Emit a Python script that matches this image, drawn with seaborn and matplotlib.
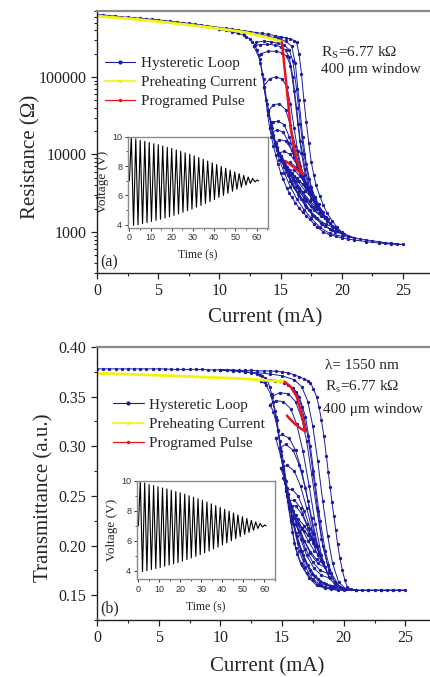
import matplotlib
matplotlib.use('Agg')
import matplotlib.pyplot as plt
import seaborn as sns
from matplotlib.lines import Line2D
from matplotlib.ticker import MultipleLocator, FixedLocator, LogLocator, NullFormatter

# ---------------- (a) resistance vs current ----------------
# main loop: heating 0 -> 25 mA, then cooling 25 -> 10 mA
cyc0_i = [0, 0.5, 1, 1.5, 2, 2.5, 3, 3.5, 4, 4.5, 5, 5.5, 6, 6.5, 7, 7.5, 8, 8.5, 9, 9.5, 10, 10.5, 11, 11.5, 12,
          12.5, 13, 13.5, 14, 14.5, 15, 15.4, 15.8, 16.1, 16.3, 16.5, 16.7, 16.9, 17.1, 17.3, 17.5, 17.7, 17.9, 18.2,
          18.5, 18.8, 19.2, 19.6, 20, 20.5, 21, 21.5, 22, 22.5, 23, 23.5, 24, 24.5, 25,
          24, 23, 22, 21, 20.5, 20, 19.5, 19, 18.5, 18, 17.7, 17.4, 17.1, 16.8, 16.5, 16.2, 15.9, 15.7, 15.5, 15.2,
          15.0, 14.8, 14.6, 14.4, 14.25, 14.1, 13.95, 13.8, 13.65, 13.5, 13.35, 13.2, 13.05, 12.9, 12.7, 12.5, 12.2,
          12, 11.5, 11, 10.5, 10]
cyc0_r = [640000, 630000, 620000, 610000, 600000, 590000, 582000, 573000, 565000, 555000, 545000, 535000, 525000,
          513000, 503000, 492000, 480000, 470000, 458000, 447000, 435000, 425000, 415000, 405000, 395000, 385000,
          375000, 365000, 355000, 343000, 330000, 320000, 310000, 295000, 280000, 200000, 110000, 50000, 26000,
          14000, 8000, 5500, 4000, 2900, 2200, 1750, 1400, 1150, 990, 900, 840, 810, 790, 770, 750, 730, 715, 700, 690,
          700, 720, 750, 790, 810, 840, 880, 920, 1000, 1150, 1280, 1450, 1620, 1800, 2050, 2400, 2800, 3200, 3700, 4800,
          5800, 7500, 9800, 13000, 17000, 22000, 32000, 50000, 75000, 110000, 150000, 190000, 225000, 260000, 285000,
          310000, 330000, 345000, 365000, 385000, 400000, 410000]
# minor loops (heating then cooling)
cyc1_i = [10, 11, 12, 13, 14, 14.8, 15.4, 15.9, 16.2, 16.5, 16.8, 17.1, 17.5, 18, 18.6, 19.3, 20.1, 21,
          20, 19, 18.2, 17.5, 16.9, 16.3, 15.8, 15.3, 14.9, 14.5, 14.2, 13.9, 13.6, 13.3, 12.8]
cyc1_r = [410000, 395000, 375000, 355000, 335000, 315000, 290000, 250000, 150000, 50000, 17000, 7500, 3800, 2200, 1500,
          1150, 950, 840,
          880, 960, 1150, 1500, 1950, 2700, 3800, 5800, 8500, 14000, 24000, 45000, 95000, 170000, 250000]
cyc2_i = [12.8, 13.3, 13.9, 14.5, 15.0, 15.4, 15.7, 16.0, 16.3, 16.6, 17.0, 17.4, 17.9, 18.5, 19.2, 20,
          19.2, 18.4, 17.7, 17.1, 16.5, 15.9, 15.4, 15.0, 14.6, 14.3, 14.0, 13.6]
cyc2_r = [250000, 262000, 265000, 258000, 245000, 225000, 180000, 100000, 40000, 15000, 6500, 3600, 2300, 1600, 1200, 980,
          1050, 1250, 1600, 2100, 2900, 4200, 6300, 9000, 14000, 22000, 38000, 75000]
cyc3_i = [13.6, 14.1, 14.6, 15.1, 15.5, 15.8, 16.1, 16.4, 16.8, 17.3, 17.9, 18.6, 19.4,
          18.7, 18.0, 17.4, 16.8, 16.2, 15.6, 15.1, 14.7, 14.4, 14.1]
cyc3_r = [75000, 95000, 100000, 95000, 75000, 45000, 22000, 11000, 5600, 3200, 2100, 1500, 1150,
          1250, 1500, 1900, 2600, 3700, 5600, 8500, 12500, 17000, 22000]
cyc4_i = [14.1, 14.4, 14.8, 15.3, 15.7, 16.1, 16.5, 17.0, 17.5, 18.2, 18.9,
          18.3, 17.7, 17.1, 16.5, 16.0, 15.5, 15.0, 14.5]
cyc4_r = [22000, 26000, 27000, 24000, 17000, 10500, 6500, 4000, 2700, 1900, 1450,
          1600, 1900, 2500, 3400, 4700, 6600, 9500, 14000]
cyc5_i = [14.5, 14.9, 15.4, 15.9, 16.3, 16.8, 17.3, 17.9, 18.5,
          18.0, 17.4, 16.8, 16.2, 15.7, 15.3, 14.9]
cyc5_r = [14000, 15500, 15000, 11500, 8000, 5200, 3500, 2400, 1800,
          2000, 2500, 3300, 4600, 6300, 8300, 10500]
cyc6_i = [14.9, 15.3, 15.8, 16.3, 16.8, 17.4, 18.1, 17.6, 17.0, 16.4, 15.9, 15.3]
cyc6_r = [10500, 11000, 10000, 7500, 5200, 3400, 2300, 2700, 3400, 4500, 5800, 7800]
cyc7_i = [15.3, 15.8, 16.3, 16.8, 17.3, 17.8, 17.3, 16.8, 16.3, 15.7]
cyc7_r = [7800, 7900, 6800, 5000, 3600, 2700, 3300, 4100, 5000, 6300]
cyc8_i = [15.7, 16.1, 16.6, 17.1, 17.5, 17.0, 16.5, 16.1]
cyc8_r = [6300, 6300, 5200, 4000, 3300, 3900, 4600, 5200]
cyc9_i = [13.0, 13.6, 14.2, 14.8, 15.3, 15.7, 16.0, 16.3, 16.6, 16.9, 17.3, 17.8, 18.4, 19.0, 19.7,
          19.0, 18.3, 17.6, 17.0, 16.4, 15.8, 15.3, 14.9, 14.6, 14.3]
cyc9_r = [280000, 290000, 285000, 272000, 255000, 225000, 160000, 70000, 25000, 10000, 4800, 2800, 1800, 1300, 1020,
          1100, 1300, 1650, 2200, 3100, 4600, 6800, 9800, 13500, 19000]
cyc10_i = [14.3, 14.7, 15.2, 15.7, 16.1, 16.6, 17.1, 17.7, 18.2, 18.7,
           18.1, 17.5, 16.9, 16.3, 15.8, 15.3, 14.9, 14.7]
cyc10_r = [19000, 21000, 19500, 14000, 9200, 5800, 3700, 2500, 1900, 1550,
           1750, 2150, 2800, 3900, 5400, 7600, 10000, 11500]
cyc11_i = [13.4, 14.0, 14.6, 15.1, 15.5, 15.8, 16.1, 16.4, 16.7, 17.0, 17.5, 18.1, 18.8, 19.5, 20.2,
           19.4, 18.6, 17.9, 17.3, 16.7, 16.1, 15.6, 15.1, 14.7, 14.4, 14.2, 14.0]
cyc11_r = [200000, 215000, 215000, 205000, 185000, 140000, 65000, 25000, 10500, 5500, 3100, 2000, 1400, 1100, 930,
           1000, 1200, 1500, 1950, 2650, 3800, 5500, 8200, 12000, 18000, 26000, 36000]
cyc12_i = [14.0, 14.4, 14.9, 15.4, 15.8, 16.2, 16.6, 17.1, 17.7, 18.3,
           17.7, 17.1, 16.5, 16.0, 15.5, 15.0]
cyc12_r = [36000, 44000, 45000, 38000, 24000, 13000, 7200, 4300, 2700, 1850,
           2100, 2700, 3700, 4900, 6800, 9500]

pre_i = [0, 3, 6, 9, 12, 14, 15.1]
pre_r = [610000, 560000, 500000, 440000, 380000, 320000, 285000]
pulse_i = [15.1, 15.25, 15.4, 15.6, 15.8, 16.1, 16.4, 16.85, 16.4, 16.0, 15.7, 15.4]
pulse_r = [285000, 170000, 100000, 50000, 23000, 12000, 7800, 5500, 6200, 7000, 7600, 8200]

# ---------------- (b) transmittance vs current ----------------
tcyc0_i = [0, 0.5, 1, 1.5, 2, 2.5, 3, 3.5, 4, 4.5, 5, 5.5, 6, 6.5, 7, 7.5, 8, 8.5, 9, 9.5, 10, 10.5, 11, 11.5, 12,
           12.5, 13, 13.5, 14, 14.5, 15, 15.5, 16, 16.4, 16.8, 17.1, 17.3, 17.55, 17.8, 18.0, 18.2, 18.4, 18.6, 18.75,
           18.9, 19.05, 19.2, 19.35, 19.5, 19.7, 19.9, 20.1, 20.3, 20.6, 21, 21.5, 22, 22.5, 23, 23.5, 24, 24.5, 25,
           24, 23, 22, 21, 20, 19, 18.5, 18, 17.5, 17, 16.75, 16.5, 16.25, 16, 15.85, 15.7, 15.55, 15.4, 15.25, 15.1,
           14.95, 14.8, 14.7, 14.6, 14.45, 14.3, 14.15, 14, 13.8, 13.6, 13.4, 13.2, 13, 12.5, 12, 11.5, 11, 10.5, 10]
tcyc0_t = [0.378, 0.378, 0.378, 0.378, 0.378, 0.378, 0.378, 0.378, 0.378, 0.378, 0.378, 0.378, 0.3775, 0.3775, 0.3775,
           0.3775, 0.3775, 0.3775, 0.377, 0.377, 0.377, 0.377, 0.377, 0.3765, 0.3765, 0.3765, 0.376, 0.376, 0.376,
           0.3755, 0.375, 0.374, 0.372, 0.370, 0.368, 0.366, 0.364, 0.358, 0.350, 0.340, 0.326, 0.310, 0.290, 0.274,
           0.259, 0.244, 0.230, 0.216, 0.202, 0.187, 0.175, 0.165, 0.158, 0.156, 0.155, 0.155, 0.155, 0.155, 0.155,
           0.155, 0.155, 0.155, 0.155,
           0.155, 0.155, 0.155, 0.155, 0.155, 0.156, 0.158, 0.160, 0.165, 0.172, 0.177, 0.182, 0.191, 0.203, 0.214,
           0.226, 0.238, 0.250, 0.263, 0.276, 0.291, 0.305, 0.316, 0.326, 0.336, 0.345, 0.353, 0.360, 0.367, 0.369,
           0.371, 0.372, 0.373, 0.374, 0.375, 0.3755, 0.376, 0.3765, 0.377]
tcyc1_i = [10, 12, 14, 15, 16, 16.6, 17.1, 17.5, 17.9, 18.3, 18.7, 19.1, 19.6, 20.2, 21,
           19.5, 18.5, 17.8, 17.2, 16.6, 16.1, 15.7, 15.3, 14.9, 14.5, 14.1, 13.7, 13.3]
tcyc1_t = [0.377, 0.375, 0.373, 0.371, 0.367, 0.360, 0.345, 0.320, 0.285, 0.245, 0.210, 0.182, 0.163, 0.156, 0.155,
           0.155, 0.157, 0.160, 0.167, 0.180, 0.198, 0.225, 0.258, 0.295, 0.330, 0.352, 0.362, 0.366]
tcyc2_i = [13.3, 14, 14.8, 15.5, 16.1, 16.6, 17.1, 17.5, 17.9, 18.3, 18.8, 19.3, 20,
           19, 18.2, 17.5, 16.9, 16.4, 15.9, 15.5, 15.1, 14.7, 14.3, 14.0]
tcyc2_t = [0.366, 0.367, 0.366, 0.362, 0.355, 0.340, 0.310, 0.275, 0.235, 0.200, 0.175, 0.161, 0.156,
           0.157, 0.160, 0.166, 0.178, 0.195, 0.222, 0.252, 0.285, 0.315, 0.335, 0.342]
tcyc3_i = [14.0, 14.5, 15.1, 15.7, 16.2, 16.7, 17.2, 17.7, 18.2, 18.8, 19.4,
           18.6, 17.9, 17.3, 16.7, 16.2, 15.7, 15.3, 14.9, 14.5]
tcyc3_t = [0.342, 0.346, 0.345, 0.338, 0.322, 0.295, 0.260, 0.222, 0.190, 0.168, 0.159,
           0.161, 0.166, 0.175, 0.190, 0.210, 0.238, 0.265, 0.290, 0.308]
tcyc4_i = [14.5, 15.0, 15.6, 16.1, 16.6, 17.1, 17.6, 18.2, 18.9,
           18.2, 17.6, 17.0, 16.5, 16.0, 15.5, 15.2, 14.9]
tcyc4_t = [0.308, 0.312, 0.308, 0.296, 0.275, 0.245, 0.212, 0.185, 0.167,
           0.170, 0.177, 0.190, 0.207, 0.228, 0.252, 0.267, 0.278]
tcyc5_i = [14.9, 15.4, 16.0, 16.5, 17.0, 17.5, 18.0, 18.5,
           17.9, 17.3, 16.8, 16.3, 15.8, 15.3]
tcyc5_t = [0.278, 0.281, 0.275, 0.260, 0.238, 0.213, 0.192, 0.178,
           0.182, 0.192, 0.205, 0.222, 0.240, 0.255]
tcyc6_i = [15.3, 15.8, 16.3, 16.8, 17.3, 17.7, 18.1, 17.6, 17.1, 16.6, 16.1, 15.6]
tcyc6_t = [0.255, 0.257, 0.250, 0.235, 0.217, 0.200, 0.190, 0.195, 0.205, 0.218, 0.231, 0.240]
tcyc7_i = [15.6, 16.1, 16.6, 17.1, 17.5, 17.8, 17.3, 16.8, 16.3, 15.9]
tcyc7_t = [0.240, 0.240, 0.232, 0.218, 0.206, 0.200, 0.207, 0.215, 0.223, 0.228]
tcyc8_i = [15.9, 16.3, 16.8, 17.2, 17.5, 17.1, 16.6, 16.2]
tcyc8_t = [0.228, 0.227, 0.220, 0.212, 0.207, 0.211, 0.217, 0.222]
tcyc9_i = [13.6, 14.4, 15.2, 15.9, 16.4, 16.9, 17.3, 17.7, 18.1, 18.5, 19.0, 19.7,
           18.9, 18.1, 17.4, 16.8, 16.3, 15.8, 15.4, 15.1, 14.8]
tcyc9_t = [0.365, 0.366, 0.364, 0.359, 0.350, 0.330, 0.300, 0.262, 0.225, 0.195, 0.172, 0.158,
           0.159, 0.163, 0.171, 0.185, 0.203, 0.230, 0.258, 0.280, 0.298]
tcyc10_i = [14.8, 15.3, 15.9, 16.4, 16.9, 17.4, 17.9, 18.3, 18.7,
            18.1, 17.5, 16.9, 16.4, 15.9, 15.5, 15.1]
tcyc10_t = [0.298, 0.302, 0.296, 0.281, 0.258, 0.228, 0.200, 0.183, 0.172,
            0.175, 0.183, 0.197, 0.214, 0.235, 0.252, 0.268]
tcyc11_i = [14.2, 14.8, 15.5, 16.1, 16.6, 17.0, 17.4, 17.8, 18.2, 18.7, 19.3, 19.9,
            19.1, 18.4, 17.7, 17.1, 16.6, 16.1, 15.8, 15.5]
tcyc11_t = [0.350, 0.354, 0.353, 0.345, 0.328, 0.305, 0.272, 0.238, 0.207, 0.180, 0.163, 0.157,
            0.158, 0.162, 0.169, 0.180, 0.195, 0.213, 0.228, 0.245]
tcyc12_i = [15.5, 16.0, 16.5, 17.0, 17.5, 17.9, 18.3, 17.8, 17.3, 16.8, 16.4, 16.0]
tcyc12_t = [0.245, 0.246, 0.238, 0.222, 0.203, 0.190, 0.182, 0.186, 0.194, 0.205, 0.215, 0.222]

tpre_i = [0, 4, 8, 12, 15.2]
tpre_t = [0.3735, 0.372, 0.370, 0.368, 0.365]
tpulse_i = [15.2, 15.7, 16.2, 16.6, 16.9, 16.5, 16.0, 15.6, 15.4]
tpulse_t = [0.365, 0.360, 0.350, 0.332, 0.315, 0.318, 0.323, 0.328, 0.331]

# ---------------- inset: damped voltage oscillation ----------------
volt_t = [0, 0.9, 1.95, 3.0, 4.05, 5.1, 6.2, 7.25, 8.3, 9.35, 10.4, 11.5, 12.55, 13.6, 14.65, 15.7, 16.8, 17.85, 18.9,
          19.95, 21.0, 22.1, 23.15, 24.2, 25.25, 26.3, 27.4, 28.45, 29.5, 30.55, 31.6, 32.7, 33.75, 34.8, 35.85, 36.9,
          38.0, 39.05, 40.1, 41.15, 42.2, 43.3, 44.35, 45.4, 46.45, 47.5, 48.6, 49.65, 50.7, 51.75, 52.8, 53.9, 54.95,
          56.0, 57.05, 58.1, 59.2, 60.25, 61.0]
volt_v = [7.0, 10.0, 3.95, 9.85, 4.0, 9.75, 4.08, 9.68, 4.15, 9.6, 4.22, 9.52, 4.3, 9.45, 4.38, 9.37, 4.46, 9.28, 4.55,
          9.2, 4.64, 9.1, 4.74, 9.0, 4.85, 8.9, 4.96, 8.8, 5.07, 8.7, 5.2, 8.58, 5.32, 8.46, 5.45, 8.34, 5.58, 8.22,
          5.72, 8.1, 5.86, 7.97, 6.0, 7.85, 6.14, 7.72, 6.28, 7.6, 6.42, 7.48, 6.56, 7.36, 6.7, 7.25, 6.82, 7.15, 6.92,
          7.05, 6.98]

top_cycles = [(cyc0_i, cyc0_r), (cyc1_i, cyc1_r), (cyc2_i, cyc2_r), (cyc3_i, cyc3_r), (cyc4_i, cyc4_r),
              (cyc5_i, cyc5_r), (cyc6_i, cyc6_r), (cyc7_i, cyc7_r), (cyc8_i, cyc8_r), (cyc9_i, cyc9_r),
              (cyc10_i, cyc10_r), (cyc11_i, cyc11_r), (cyc12_i, cyc12_r)]
bot_cycles = [(tcyc0_i, tcyc0_t), (tcyc1_i, tcyc1_t), (tcyc2_i, tcyc2_t), (tcyc3_i, tcyc3_t), (tcyc4_i, tcyc4_t),
              (tcyc5_i, tcyc5_t), (tcyc6_i, tcyc6_t), (tcyc7_i, tcyc7_t), (tcyc8_i, tcyc8_t), (tcyc9_i, tcyc9_t),
              (tcyc10_i, tcyc10_t), (tcyc11_i, tcyc11_t), (tcyc12_i, tcyc12_t)]

BLUE = '#1c1ca0'
YELLOW = '#f2f20a'
RED = '#e8141e'

sns.set_theme(style='ticks')
plt.rcParams['font.family'] = ['Liberation Serif', 'DejaVu Serif']
plt.rcParams['mathtext.fontset'] = 'stix'


def line(ax, x, y, **kw):
    sns.lineplot(x=x, y=y, sort=False, estimator=None, ax=ax, **kw)


def style_main(ax):
    for s in ['left', 'bottom']:
        ax.spines[s].set_color('#222222')
        ax.spines[s].set_linewidth(1.0)
    ax.spines['top'].set_color('#8a8a8a')
    ax.spines['top'].set_linewidth(1.6)
    ax.spines['right'].set_visible(False)
    ax.tick_params(which='major', direction='out', length=4, width=0.9, labelsize=11.5, colors='#222222',
                   top=False, right=False)
    ax.tick_params(which='minor', direction='out', length=2.2, width=0.8, colors='#222222', top=False, right=False)
    ax.xaxis.set_major_locator(MultipleLocator(5))
    ax.xaxis.set_minor_locator(MultipleLocator(2.5))
    ax.grid(False)


def style_inset(ax, ymin):
    for s in ax.spines.values():
        s.set_color('#8a8a8a')
        s.set_linewidth(1.0)
    ax.set_xlim(-0.8, 65.3)
    ax.set_ylim(ymin, 10)
    ax.xaxis.set_major_locator(MultipleLocator(10))
    ax.xaxis.set_minor_locator(MultipleLocator(5))
    ax.yaxis.set_major_locator(MultipleLocator(2))
    ax.yaxis.set_minor_locator(MultipleLocator(1))
    ax.tick_params(which='major', direction='out', length=2.5, width=0.7, pad=1.5, labelsize=6.5,
                   colors='#333333')
    ax.tick_params(which='minor', direction='out', length=1.5, width=0.6, colors='#333333')
    for lab in ax.get_xticklabels() + ax.get_yticklabels():
        lab.set_family(['Liberation Sans', 'DejaVu Sans'])
    ax.set_xlabel('Time (s)', fontsize=8.5, labelpad=5)
    ax.set_ylabel('Voltage (V)', fontsize=9.5, labelpad=2)
    line(ax, volt_t, volt_v, color='black', linewidth=0.8)


def legend(ax, x, y):
    handles = [Line2D([], [], color=BLUE, lw=0.8, marker='o', ms=2),
               Line2D([], [], color=YELLOW, lw=1.2, marker='o', ms=1.5),
               Line2D([], [], color=RED, lw=0.9, marker='o', ms=1.5)]
    ax.legend(handles, ['Hysteretic Loop', 'Preheating Current', 'Programed Pulse'], loc='upper left',
              bbox_to_anchor=(x, y), bbox_transform=ax.figure.transFigure, frameon=False, fontsize=11,
              handlelength=2.0, handletextpad=0.35, labelspacing=0.36, borderpad=0, borderaxespad=0)


fig = plt.figure(figsize=(4.30, 6.77), dpi=100)
ax1 = fig.add_axes([0.2256, 0.5968, 0.7744, 0.3870])
ax2 = fig.add_axes([0.2256, 0.0842, 0.7744, 0.4032])

# ---- panel (a)
for ci, cr in top_cycles:
    line(ax1, ci, cr, color=BLUE, linewidth=0.7, marker='o', markersize=2.4, markeredgewidth=0)
line(ax1, pre_i, pre_r, color=YELLOW, linewidth=2.0)
line(ax1, pulse_i, pulse_r, color=RED, linewidth=1.8)
ax1.set_yscale('log')
ax1.set_xlim(0, 27.2)
ax1.set_ylim(296, 711000)
style_main(ax1)
ax1.yaxis.set_major_locator(FixedLocator([1000, 10000, 100000]))
ax1.set_yticklabels(['1000', '10000', '100000'])
ax1.yaxis.set_minor_locator(LogLocator(base=10, subs=range(2, 10)))
ax1.yaxis.set_minor_formatter(NullFormatter())
ax1.set_xlabel('Current (mA)', fontsize=15)
ax1.set_ylabel('Resistance (Ω)', fontsize=15)
ax1.xaxis.set_label_coords(0.505, -0.172)
ax1.xaxis.label.set_va('center')
ax1.yaxis.set_label_coords(-0.20, 0.443)
ax1.yaxis.label.set_va('center')
legend(ax1, 0.244, 0.917)
fig.text(320.7 / 430, 1 - 53.3 / 677, r'R$_\mathregular{S}$=6.77 kΩ', fontsize=11, va='center')
fig.text(320.7 / 430, 1 - 70 / 677, '400 μm window', fontsize=11, va='center')
fig.text(100 / 430, 1 - 262 / 677, '(a)', fontsize=11.5, va='center')

ins1 = fig.add_axes([0.297, 0.6637, 0.326, 0.1344])
style_inset(ins1, 3.8)

# ---- panel (b)
for ci, ct in bot_cycles:
    line(ax2, ci, ct, color=BLUE, linewidth=0.7, marker='o', markersize=2.4, markeredgewidth=0)
line(ax2, tpre_i, tpre_t, color=YELLOW, linewidth=2.0)
line(ax2, tpulse_i, tpulse_t, color=RED, linewidth=1.8)
ax2.set_xlim(0, 27.0)
ax2.set_ylim(0.125, 0.40)
style_main(ax2)
ax2.yaxis.set_major_locator(FixedLocator([0.15, 0.20, 0.25, 0.30, 0.35, 0.40]))
ax2.yaxis.set_major_formatter(plt.FormatStrFormatter('%.2f'))
ax2.yaxis.set_minor_locator(MultipleLocator(0.025))
ax2.set_xlabel('Current (mA)', fontsize=15)
ax2.set_ylabel('Transmittance (a.u.)', fontsize=15)
ax2.xaxis.set_label_coords(0.51, -0.171)
ax2.xaxis.label.set_va('center')
ax2.yaxis.set_label_coords(-0.16, 0.449)
ax2.yaxis.label.set_va('center')
legend(ax2, 0.263, 1 - 398 / 677)
fig.text(325 / 430, 1 - 366 / 677, 'λ= 1550 nm', fontsize=11, va='center')
fig.text(325 / 430, 1 - 387.3 / 677, r'R$_\mathregular{s}$=6.77 kΩ', fontsize=11, va='center')
fig.text(322.7 / 430, 1 - 410 / 677, '400 μm window', fontsize=11, va='center')
fig.text(100 / 430, 1 - 608 / 677, '(b)', fontsize=11.5, va='center')

ins2 = fig.add_axes([0.318, 0.1443, 0.322, 0.1456])
style_inset(ins2, 3.43)

fig.savefig('out.png', dpi=100)
